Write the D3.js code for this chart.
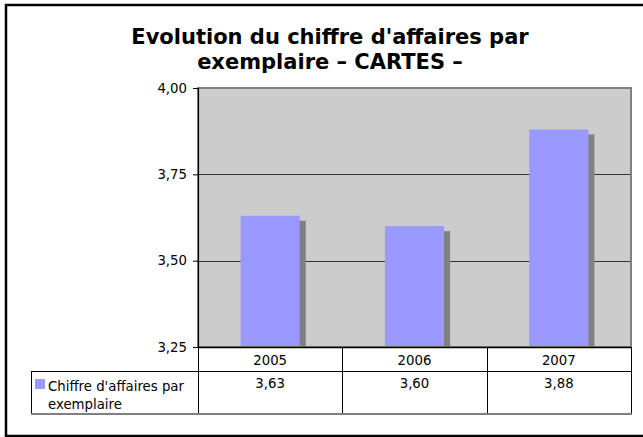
<!DOCTYPE html>
<html>
<head>
<meta charset="utf-8">
<script src="https://cdn.jsdelivr.net/npm/d3@7"></script>
<style>
  html, body { margin: 0; padding: 0; background: #fff; }
  svg { display: block; }
  text { font-family: "DejaVu Sans", Verdana, sans-serif; fill: #000; }
</style>
</head>
<body>
<svg id="chart" width="643" height="437"></svg>
<script>
// Chart data
const titleLines = ["Evolution du chiffre d'affaires par", "exemplaire \u2013 CARTES \u2013"];
const years = ["2005", "2006", "2007"];
const revenuePerCopy = [3.63, 3.60, 3.88];
const seriesName = ["Chiffre d'affaires par", "exemplaire"];
const yTicks = [3.25, 3.50, 3.75, 4.00];

const svg = d3.select("#chart");
const fmt = v => d3.format(".2f")(v).replace(".", ",");
const smallFont = 13.3;

// Plot area
const plot = { left: 198, right: 631, top: 88, bottom: 347 };

// Outer chart frame (right edge runs past the window)
svg.append("rect")
  .attr("x", 6).attr("y", 5)
  .attr("width", 700).attr("height", 431)
  .attr("fill", "#fff")
  .attr("stroke", "#000").attr("stroke-width", 2.5);

// Title
svg.append("g").selectAll("text")
  .data(titleLines).join("text")
  .attr("x", 330)
  .attr("y", (d, i) => 44 + i * 25)
  .attr("text-anchor", "middle")
  .attr("font-size", 21).attr("font-weight", "bold")
  .text(d => d);

const y = d3.scaleLinear().domain([3.25, 4.00]).range([plot.bottom, plot.top]);
const xBars = d3.scaleBand().domain(years)
  .range([plot.left, plot.right])
  .paddingInner(0.59).paddingOuter(0.295);
const xCols = d3.scaleBand().domain(years).range([plot.left, plot.right]);

// Plot background
svg.append("rect")
  .attr("x", plot.left).attr("y", plot.top)
  .attr("width", plot.right - plot.left).attr("height", plot.bottom - plot.top)
  .attr("fill", "#cccccc");

// Gridlines
svg.append("g").selectAll("line")
  .data(yTicks.filter(t => t > 3.25 && t < 4.00)).join("line")
  .attr("x1", plot.left).attr("x2", plot.right)
  .attr("y1", d => Math.round(y(d)) + 0.5).attr("y2", d => Math.round(y(d)) + 0.5)
  .attr("stroke", "#333").attr("stroke-width", 1);

const data = years.map((yr, i) => ({ year: yr, value: revenuePerCopy[i] }));

// Bar shadows
svg.append("g").selectAll("rect")
  .data(data).join("rect")
  .attr("x", d => xBars(d.year) + 6)
  .attr("y", d => y(d.value) + 5)
  .attr("width", xBars.bandwidth())
  .attr("height", d => plot.bottom - y(d.value) - 5)
  .attr("fill", "#808080");

// Bars
svg.append("g").selectAll("rect")
  .data(data).join("rect")
  .attr("x", d => xBars(d.year))
  .attr("y", d => y(d.value))
  .attr("width", xBars.bandwidth())
  .attr("height", d => plot.bottom - y(d.value))
  .attr("fill", "#9999ff");

// Plot frame (gray)
svg.append("rect")
  .attr("x", plot.left).attr("y", plot.top)
  .attr("width", plot.right - plot.left).attr("height", plot.bottom - plot.top)
  .attr("fill", "none").attr("stroke", "#808080").attr("stroke-width", 2);

// Y axis
const yAxis = d3.axisLeft(y).tickValues(yTicks).tickFormat(fmt).tickSize(5).tickPadding(6);
const ga = svg.append("g").attr("transform", `translate(${plot.left},0)`).call(yAxis);
ga.select(".domain").attr("stroke", "#000").attr("stroke-width", 1.2);
ga.selectAll(".tick line").attr("stroke", "#000");
ga.selectAll(".tick text")
  .attr("font-family", "DejaVu Sans, Verdana, sans-serif")
  .attr("font-size", smallFont).attr("fill", "#000");

// Data table
const t = { row1: 347, row2: 371, bottom: 414, legendLeft: 31 };
const tbl = svg.append("g").attr("stroke", "#000").attr("stroke-width", 1);
tbl.append("line").attr("x1", plot.left).attr("x2", plot.right)
  .attr("y1", t.row1 + 0.5).attr("y2", t.row1 + 0.5).attr("stroke-width", 1.5);
tbl.append("line").attr("x1", t.legendLeft).attr("x2", plot.right)
  .attr("y1", t.row2 + 0.5).attr("y2", t.row2 + 0.5);
// Column separators
tbl.selectAll("line.col")
  .data(years.map(d => xCols(d)).concat([plot.right])).join("line")
  .attr("class", "col")
  .attr("x1", d => Math.round(d) + 0.5).attr("x2", d => Math.round(d) + 0.5)
  .attr("y1", t.row1).attr("y2", t.bottom);
tbl.append("line")
  .attr("x1", t.legendLeft + 0.5).attr("x2", t.legendLeft + 0.5)
  .attr("y1", t.row2).attr("y2", t.bottom);
// Bottom edge
svg.append("line")
  .attr("x1", t.legendLeft).attr("x2", plot.right + 1)
  .attr("y1", t.bottom).attr("y2", t.bottom)
  .attr("stroke", "#808080").attr("stroke-width", 2);

// Year labels
svg.append("g").selectAll("text")
  .data(years).join("text")
  .attr("x", d => xCols(d) + xCols.bandwidth() / 2)
  .attr("y", 365)
  .attr("text-anchor", "middle").attr("font-size", smallFont)
  .text(d => d);

// Value labels
svg.append("g").selectAll("text")
  .data(data).join("text")
  .attr("x", d => xCols(d.year) + xCols.bandwidth() / 2)
  .attr("y", 388)
  .attr("text-anchor", "middle").attr("font-size", smallFont)
  .text(d => fmt(d.value));

// Legend key and series name
svg.append("rect")
  .attr("x", 35).attr("y", 379).attr("width", 10).attr("height", 10)
  .attr("fill", "#9999ff");
svg.append("g").selectAll("text")
  .data(seriesName).join("text")
  .attr("x", 48)
  .attr("y", (d, i) => 391 + i * 18)
  .attr("font-size", smallFont)
  .text(d => d);
</script>
</body>
</html>
